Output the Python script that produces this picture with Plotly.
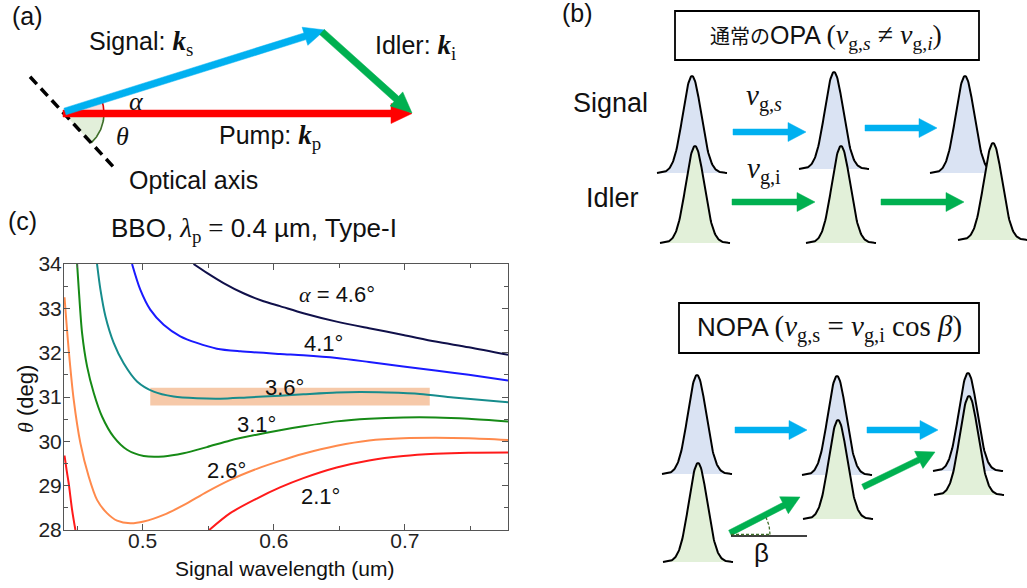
import numpy as np
import plotly.graph_objects as go

W, H = 1027, 588
SANS = "Liberation Sans, Arial, sans-serif"
SERIF = "Liberation Serif"

# ---------------- Panel (c) data: theta vs signal wavelength ----------------
alpha_labels = ["2.1°", "2.6°", "3.1°", "3.6°", "4.1°", "α = 4.6°"]
curve_colors = ["#ff1a1a", "#ff8a4c", "#168a16", "#168c8c", "#1a1aff", "#10104a"]

wl_21 = [0.4404, 0.4420, 0.4436, 0.4462, 0.4487, None,
         0.5508, 0.5668, 0.5871, 0.6048, 0.6226, 0.6480, 0.6727, 0.6988, 0.7234, 0.7488, 0.7787]
th_21 = [29.68, 29.35, 29.05, 28.45, 28.0, None,
         28.0, 28.38, 28.71, 28.96, 29.17, 29.41, 29.57, 29.67, 29.72, 29.745, 29.75]

wl_26 = [0.4404, 0.4436, 0.4474, 0.4525, 0.4589, 0.4652, 0.4728, 0.4805, 0.4906, 0.5008,
         0.5160, 0.5312, 0.5490, 0.5668, 0.5871, 0.6048, 0.6226, 0.6480, 0.6727, 0.6988,
         0.7234, 0.7488, 0.7787]
th_26 = [33.25, 32.06, 30.94, 29.96, 29.20, 28.68, 28.38, 28.21, 28.15, 28.19,
         28.34, 28.56, 28.86, 29.13, 29.38, 29.56, 29.72, 29.90, 30.02, 30.07,
         30.08, 30.07, 30.03]

wl_31 = [0.4500, 0.4513, 0.4538, 0.4576, 0.4627, 0.4690, 0.4779, 0.4881, 0.5008, 0.5160,
         0.5312, 0.5490, 0.5668, 0.5871, 0.6048, 0.6226, 0.6480, 0.6727, 0.6988, 0.7234,
         0.7488, 0.7787]
th_31 = [34.0, 33.42, 32.44, 31.69, 31.09, 30.56, 30.10, 29.81, 29.67, 29.66,
         29.73, 29.87, 30.02, 30.15, 30.25, 30.34, 30.45, 30.51, 30.54, 30.54,
         30.51, 30.45]

wl_36 = [0.4652, 0.4678, 0.4716, 0.4779, 0.4855, 0.4957, 0.5084, 0.5236, 0.5414, 0.5592,
         0.5795, 0.6048, 0.6226, 0.6480, 0.6658, 0.6861, 0.7115, 0.7369, 0.7787]
th_36 = [34.0, 33.42, 32.82, 32.22, 31.76, 31.35, 31.12, 31.01, 30.97, 30.96,
         30.99, 31.03, 31.06, 31.10, 31.11, 31.10, 31.07, 30.99, 30.88]

wl_41 = [0.4919, 0.4982, 0.5058, 0.5160, 0.5287, 0.5414, 0.5566, 0.5744, 0.6048, 0.6226,
         0.6480, 0.6727, 0.6988, 0.7234, 0.7488, 0.7787]
th_41 = [34.0, 33.42, 32.97, 32.63, 32.37, 32.22, 32.09, 32.03, 31.97, 31.94,
         31.88, 31.79, 31.69, 31.60, 31.50, 31.37]

wl_46 = [0.5388, 0.5490, 0.5617, 0.5769, 0.5922, 0.6048, 0.6226, 0.6480, 0.6727, 0.6988,
         0.7234, 0.7488, 0.7787]
th_46 = [34.0, 33.80, 33.57, 33.34, 33.16, 33.05, 32.89, 32.70, 32.55, 32.40,
         32.25, 32.12, 31.95]

label_wl = [0.6353, 0.5637, 0.5871, 0.6080, 0.6378, 0.6485]
label_th = [28.75, 29.34, 30.39, 31.22, 32.20, 33.31]

highlight_wl = [0.5058, 0.7190]
highlight_th = [30.81, 31.21]

x_ticks = [0.5, 0.6, 0.7]
x_minor = [0.45, 0.55, 0.65, 0.75]
y_ticks = [28, 29, 30, 31, 32, 33, 34]
y_minor = [28.5, 29.5, 30.5, 31.5, 32.5, 33.5]

curves_wl = [wl_21, wl_26, wl_31, wl_36, wl_41, wl_46]
curves_th = [th_21, th_26, th_31, th_36, th_41, th_46]

# ---------------- Diagram geometry (pixel space) ----------------
# panel (a)
origin_a = (64, 113.5)
pump_tip = (412, 113.5)
signal_tip = (325, 30)
idler_tip = (412, 113)
axis_dir_deg = 47.2
# panel (b) pulses: (center x, baseline y, peak height)
top_signal_pulses = [(692, 173, 97), (834, 169, 97), (965, 173, 97)]
top_idler_pulses = [(695, 243, 97), (841, 243, 97), (993, 240, 97)]
bot_signal_pulses = [(697, 474, 99), (837, 475, 99), (968, 471, 98)]
bot_idler_pulses = [(698, 562, 99), (838, 519, 99), (969, 495, 99)]
top_blue_arrows = [((733, 132), (806, 132)), ((865, 128), (937, 128))]
top_green_arrows = [((732, 202), (815, 202)), ((881, 202), (964, 202))]
bot_blue_arrows = [((735, 430), (807, 430)), ((867, 430), (938, 430))]
bot_green_arrows = [((730, 533), (800, 497)), ((863, 487), (935, 452))]

C_BLUE = "#00b0f0"
C_GREEN = "#00b050"
C_RED = "#ff0000"
FILL_S = "#dae3f3"
FILL_I = "#e2f0d9"

fig = go.Figure()

# ---- panel (c) curves ----
for wl, th, col in zip(curves_wl, curves_th, curve_colors):
    fig.add_trace(go.Scatter(x=wl, y=th, mode="lines", line=dict(color=col, width=2, shape="spline", smoothing=0.8),
                             hoverinfo="skip", showlegend=False, xaxis="x", yaxis="y", cliponaxis=True))

fig.add_shape(type="rect", xref="x", yref="y", x0=highlight_wl[0], x1=highlight_wl[1],
              y0=highlight_th[0], y1=highlight_th[1], fillcolor="#f6c9a9", line_width=0, layer="below")

for lab, lx, ly in zip(alpha_labels, label_wl, label_th):
    t = lab.replace("α", f'<span style="font-family:{SERIF}"><i>α</i></span>')
    fig.add_annotation(x=lx, y=ly, xref="x", yref="y", text=t, showarrow=False,
                       font=dict(family=SANS, size=22, color="#111"))


# ---- helpers for the diagram overlay ----
def P(xs, ys, color, width=2, fill=None, fillcolor=None, dash=None):
    fig.add_trace(go.Scatter(x=list(xs), y=list(ys), mode="lines",
                             line=dict(color=color, width=width, dash=dash),
                             fill=fill, fillcolor=fillcolor, hoverinfo="skip",
                             showlegend=False, xaxis="x2", yaxis="y2"))


def arrow(p0, p1, color, w=6.5, hl=20, hw=19):
    x0, y0 = p0
    x1, y1 = p1
    dx, dy = x1 - x0, y1 - y0
    L = np.hypot(dx, dy)
    ux, uy = dx / L, dy / L
    nx, ny = -uy, ux
    bx, by = x1 - ux * hl, y1 - uy * hl
    pts = [(x0 + nx * w / 2, y0 + ny * w / 2), (bx + nx * w / 2, by + ny * w / 2),
           (bx + nx * hw / 2, by + ny * hw / 2), (x1, y1),
           (bx - nx * hw / 2, by - ny * hw / 2), (bx - nx * w / 2, by - ny * w / 2),
           (x0 - nx * w / 2, y0 - ny * w / 2)]
    pts.append(pts[0])
    xs, ys = zip(*pts)
    P(xs, ys, color, width=0.5, fill="toself", fillcolor=color)


def pulse(cx, base, h, fillc, sigma=9.2, half=35):
    t = np.linspace(-half, half, 121)
    xs = cx + t
    ys = base - h * np.exp(-t ** 2 / (2 * sigma ** 2))
    ys[0] = base
    ys[-1] = base
    P(xs, ys, "#000", width=2, fill="toself", fillcolor=fillc)


def wedge(center, r, a0, a1, fillc, linec):
    a = np.radians(np.linspace(a0, a1, 40))
    xs = center[0] + r * np.cos(a)
    ys = center[1] - r * np.sin(a)
    P([center[0], *xs, center[0]], [center[1], *ys, center[1]], fillc, width=0, fill="toself", fillcolor=fillc)
    P(xs, ys, linec, width=1.6)


# ---- panel (a) ----
sig_ang = np.degrees(np.arctan2(origin_a[1] - signal_tip[1], signal_tip[0] - origin_a[0]))
wedge(origin_a, 40, 0, sig_ang, "#fbe0e0", "#e00000")
wedge(origin_a, 40, -axis_dir_deg, 0, "#e2efda", "#3f6f2a")
ad = np.radians(axis_dir_deg)
P([origin_a[0] - 50 * np.cos(ad), origin_a[0] + 72 * np.cos(ad)],
  [origin_a[1] - 50 * np.sin(ad), origin_a[1] + 72 * np.sin(ad)], "#000", width=3.5, dash="10px,6px")
arrow((origin_a[0] - 1, origin_a[1]), pump_tip, C_RED, w=7, hl=21, hw=20)
arrow((origin_a[0] + 1, origin_a[1] - 2), signal_tip, C_BLUE, w=7, hl=21, hw=19)
arrow((signal_tip[0] - 3, signal_tip[1] + 2), idler_tip, C_GREEN, w=7, hl=21, hw=19)

# ---- panel (b) ----
for s, i in zip(top_signal_pulses, top_idler_pulses):
    pulse(*s, FILL_S)
    pulse(*i, FILL_I)
for s, i in zip(bot_signal_pulses, bot_idler_pulses):
    pulse(*s, FILL_S)
    pulse(*i, FILL_I)
for p0, p1 in top_blue_arrows + bot_blue_arrows:
    arrow(p0, p1, C_BLUE, w=6, hl=18, hw=19)
for p0, p1 in top_green_arrows + bot_green_arrows:
    arrow(p0, p1, C_GREEN, w=6, hl=18, hw=19)

# beta angle marker
P([731, 807], [536, 536], "#000", width=1.5)
P([731, 770], [534.5, 534.5], "#3f6f2a", width=1.3, dash="3px,2px")
bang = np.radians(np.linspace(0, 26, 12))
P(731 + 39 * np.cos(bang), 534.5 - 39 * np.sin(bang), "#3f6f2a", width=1.3, dash="3px,2px")

# boxes
for x0, y0, x1, y1 in [(675, 11, 979, 60), (679, 303, 979, 353)]:
    fig.add_shape(type="rect", xref="x2", yref="y2", x0=x0, y0=y0, x1=x1, y1=y1,
                  line=dict(color="#000", width=1.8), fillcolor="rgba(0,0,0,0)")


def txt(x, y, s, size=22, color="#111", angle=0):
    fig.add_annotation(x=x, y=y, xref="x2", yref="y2", text=s, showarrow=False, textangle=angle,
                       font=dict(family=SANS, size=size, color=color))


def ser(s, size=None):
    st = f"font-family:{SERIF}" + (f";font-size:{size}px" if size else "")
    return f'<span style="{st}">{s}</span>'


txt(27, 16, "(a)", 25)
txt(577, 13, "(b)", 25)
txt(22, 221, "(c)", 25)
txt(141, 43, "Signal: " + ser("<b><i>k</i></b><sub>s</sub>", 27), 25)
txt(415, 47, "Idler: " + ser("<b><i>k</i></b><sub>i</sub>", 27), 25)
txt(270, 137, "Pump: " + ser("<b><i>k</i></b><sub>p</sub>", 27), 25)
txt(193, 180, "Optical axis", 25)
txt(136, 101, ser("<i>α</i>"), 26)
txt(122, 136, ser("<i>θ</i>"), 26)

txt(826, 36, '<span style="font-family:Noto Sans CJK JP;font-size:20px">通常の</span>OPA '
    + ser("(<i>ν</i><sub>g,<i>s</i></sub> ≠ <i>ν</i><sub>g,<i>i</i></sub>)", 28), 25)
txt(829, 328, "NOPA " + ser("(<i>ν</i><sub>g,s</sub> = <i>ν</i><sub>g,i</sub> cos <i>β</i>)", 29), 26)
txt(610, 103, "Signal", 27)
txt(612, 198, "Idler", 27)
txt(764, 97, ser("<i>ν</i><sub>g,<i>s</i></sub>"), 29)
txt(764, 170, ser("<i>ν</i><sub>g,i</sub>"), 29)
txt(761, 553, "β", 26)

txt(254, 230, "BBO, " + ser("<i>λ</i><sub>p</sub> =", 27) + " 0.4 µm, Type-I", 26)
txt(284, 568, "Signal wavelength (um)", 21)
txt(25, 399, ser("<i>θ</i>") + " (deg)", 22, angle=-90)

axis_common = dict(showline=True, linecolor="#555", linewidth=1, mirror="allticks", ticks="inside",
                   ticklen=6, tickcolor="#555", showgrid=False, zeroline=False, automargin=False,
                   tickfont=dict(family=SANS, size=21, color="#222"))

fig.update_layout(
    width=W, height=H, margin=dict(l=0, r=0, t=0, b=0, pad=0, autoexpand=False),
    paper_bgcolor="white", plot_bgcolor="rgba(0,0,0,0)", showlegend=False,
    xaxis=dict(domain=[64 / W, 508 / W], range=[0.44, 0.7787], anchor="y",
               tickmode="array", tickvals=x_ticks, ticktext=[f"{v:.1f}" for v in x_ticks],
               minor=dict(tickmode="array", tickvals=x_minor, ticks="inside", ticklen=4, tickcolor="#555"),
               ticklabelstandoff=-8, **axis_common),
    yaxis=dict(domain=[1 - 530 / H, 1 - 264 / H], range=[28, 34], anchor="x",
               tickmode="array", tickvals=y_ticks, ticktext=[str(v) for v in y_ticks],
               minor=dict(tickmode="array", tickvals=y_minor, ticks="inside", ticklen=4, tickcolor="#555"),
               ticklabelstandoff=-3, **axis_common),
    xaxis2=dict(domain=[0, 1], range=[0, W], anchor="y2", visible=False, fixedrange=True, automargin=False),
    yaxis2=dict(domain=[0, 1], range=[H, 0], anchor="x2", visible=False, fixedrange=True, automargin=False),
)

fig.write_html("out.html")
